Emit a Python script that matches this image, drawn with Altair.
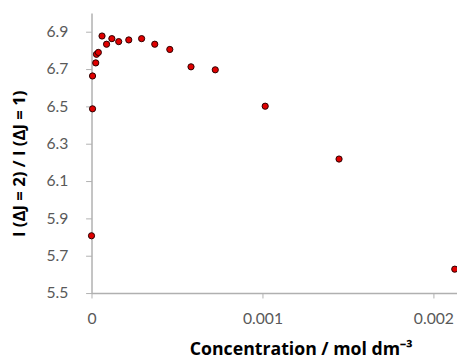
import altair as alt
import pandas as pd

conc = [0.0, 0.000006, 0.000006, 0.0000247, 0.000029, 0.00004, 0.0000615, 0.000088,
        0.000119, 0.000159, 0.000218, 0.000293, 0.00037, 0.000458, 0.000582,
        0.000724, 0.001016, 0.001448, 0.002125]
ratio = [5.807, 6.487, 6.663, 6.733, 6.779, 6.789, 6.877, 6.833, 6.863, 6.847,
         6.856, 6.863, 6.833, 6.805, 6.712, 6.696, 6.501, 6.218, 5.628]
x_ticks = [0, 0.001, 0.002]
y_ticks = [5.5, 5.7, 5.9, 6.1, 6.3, 6.5, 6.7, 6.9]

df = pd.DataFrame({"conc": conc, "ratio": ratio})

LABEL_FONT = "Lato"
TITLE_FONT = "Open Sans"

chart = alt.Chart(df).mark_circle(
    size=40, color="#e00000", opacity=1, stroke="#2a0000", strokeWidth=1, clip=False
).encode(
    x=alt.X("conc:Q",
            scale=alt.Scale(domain=[0, 0.002138], nice=False, zero=False),
            axis=alt.Axis(values=x_ticks, format=".3~f", grid=False,
                          title="Concentration / mol dm⁻³",
                          titleX=213, titleY=63, titleBaseline="alphabetic",
                          titleAlign="center",
                          titleFontSize=18, titleFontWeight="bold", titleColor="#000000",
                          titleFont=TITLE_FONT,
                          labelFont=LABEL_FONT, labelFontSize=16, labelColor="#595959",
                          labelPadding=13, tickSize=5, tickColor="#b0b0b0",
                          domainColor="#b0b0b0", domainWidth=1.5, labelFlush=False)),
    y=alt.Y("ratio:Q",
            scale=alt.Scale(domain=[5.5, 7.0], nice=False, zero=False),
            axis=alt.Axis(values=y_ticks, format=".1f", grid=False,
                          title="I (ΔJ = 2) / I (ΔJ = 1)",
                          titleX=-73, titleY=153, titleBaseline="middle",
                          titleAlign="center", titleAngle=270,
                          titleFontSize=17, titleFontWeight="bold", titleColor="#000000",
                          titleFont=TITLE_FONT,
                          labelFont=LABEL_FONT, labelFontSize=16, labelColor="#595959",
                          labelPadding=18, tickSize=6, tickColor="#b0b0b0",
                          domainColor="#b0b0b0", domainWidth=1.5)),
).properties(
    width=372, height=285,
    autosize=alt.AutoSizeParams(type="none"),
    padding={"left": 85, "top": 2, "right": 0, "bottom": 66},
).configure_view(stroke=None)

chart.save("out.html", embed_options={"renderer": "svg", "actions": False})
